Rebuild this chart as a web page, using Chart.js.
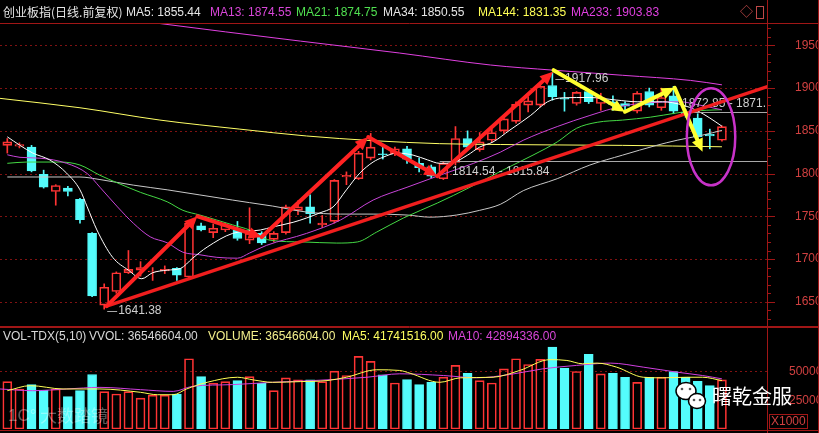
<!DOCTYPE html>
<html lang="zh-CN">
<head>
<meta charset="UTF-8" />
<title>创业板指 日线 前复权</title>
<script src="https://cdn.jsdelivr.net/npm/chart.js@4.4.1/dist/chart.umd.min.js"></script>
<style>
  html, body { margin: 0; padding: 0; background: #000; }
  #board { position: relative; width: 819px; height: 433px; overflow: hidden; background: #000;
           font-family: "Liberation Sans", Arial, sans-serif; font-size: 12px; }
  #board canvas { position: absolute; left: 0; }
  .txt { position: absolute; line-height: 16px; white-space: nowrap; }
  .cjk { font-family: "Noto Sans CJK SC", sans-serif; }
</style>
</head>
<body>
<div id="board">
  <canvas id="priceChart" width="819" height="327" style="top:0"></canvas>
  <canvas id="volChart" width="819" height="106" style="top:327px"></canvas>

  <!-- header of the price panel -->
  <span class="txt cjk" style="left:3px;top:4px;color:#e6e6e6">创业板指(日线.前复权)</span>
  <span class="txt" style="left:126px;top:4px;color:#e6e6e6">MA5: 1855.44</span>
  <span class="txt" style="left:210px;top:4px;color:#d846d8">MA13: 1874.55</span>
  <span class="txt" style="left:296px;top:4px;color:#50e050">MA21: 1874.75</span>
  <span class="txt" style="left:383px;top:4px;color:#e6e6e6">MA34: 1850.55</span>
  <span class="txt" style="left:478px;top:4px;color:#ffff55">MA144: 1831.35</span>
  <span class="txt" style="left:571px;top:4px;color:#e040e0">MA233: 1903.83</span>
  <span class="txt" style="left:740px;top:4px;color:#c04848;font-size:13px">&#9671;</span>
  <div style="position:absolute;left:756px;top:6px;width:6px;height:11px;border:1px solid #c04848"></div>

  <!-- header of the volume panel -->
  <span class="txt" style="left:3px;top:328px;color:#d8d8d8">VOL-TDX(5,10)</span>
  <span class="txt" style="left:89px;top:328px;color:#d8d8d8">VVOL: 36546604.00</span>
  <span class="txt" style="left:208px;top:328px;color:#f4f08c">VOLUME: 36546604.00</span>
  <span class="txt" style="left:342px;top:328px;color:#ffff60">MA5: 41741516.00</span>
  <span class="txt" style="left:448px;top:328px;color:#d846d8">MA10: 42894336.00</span>

  <!-- watermarks -->
  <span class="txt" style="left:8px;top:406px;font-size:17px;line-height:20px;color:rgba(255,255,255,0.35)">1C°</span>
  <span class="txt cjk" style="left:40px;top:404px;font-size:17px;line-height:22px;color:rgba(255,255,255,0.35)">大数踏镜</span>
  <span class="txt cjk" style="left:712px;top:383px;font-size:20px;line-height:26px;color:#ffffff">曙乾金服</span>
</div>

<script>
  // daily candles
  const opens  = [1833, 1832, 1831, 1799, 1779, 1783, 1770, 1730, 1646, 1662,
                  1684, 1687, 1685, 1686, 1689, 1679, 1739, 1731, 1734, 1734,
                  1722, 1730, 1723, 1731, 1757, 1761, 1740, 1744, 1796, 1794,
                  1818, 1823, 1823, 1829, 1812, 1808, 1794, 1813, 1841, 1828,
                  1839, 1850, 1861, 1880, 1880, 1903, 1888, 1882, 1896, 1882,
                  1884, 1882, 1873, 1896, 1877, 1891, 1872, 1865, 1846, 1839];
  const closes = [1837, 1834, 1803, 1784, 1786, 1779, 1746, 1657, 1667, 1684,
                  1688, 1690, 1686, 1688, 1681, 1742, 1734, 1736, 1740, 1724,
                  1730, 1719, 1730, 1761, 1761, 1753, 1742, 1792, 1798, 1824,
                  1831, 1822, 1829, 1817, 1807, 1797, 1812, 1841, 1831, 1837,
                  1848, 1864, 1881, 1885, 1902, 1890, 1887, 1895, 1884, 1889,
                  1881, 1879, 1894, 1880, 1889, 1873, 1869, 1843, 1844, 1855];
  const highs  = [1841, 1836, 1833, 1804, 1787, 1785, 1771, 1731, 1671, 1685,
                  1710, 1697, 1690, 1692, 1690, 1744, 1742, 1741, 1742, 1744,
                  1760, 1732, 1732, 1763, 1768, 1775, 1751, 1793, 1802, 1826,
                  1847, 1834, 1831, 1832, 1818, 1810, 1814, 1855, 1850, 1848,
                  1852, 1868, 1884, 1890, 1904, 1918, 1895, 1896, 1898, 1894,
                  1891, 1884, 1896, 1900, 1900, 1902, 1875, 1870, 1852, 1856];
  const lows   = [1824, 1830, 1802, 1783, 1763, 1774, 1742, 1656, 1641.38, 1660,
                  1683, 1680, 1675, 1683, 1675, 1677, 1733, 1725, 1732, 1722,
                  1718, 1717, 1720, 1729, 1752, 1742, 1737, 1742, 1787, 1793,
                  1816, 1817, 1821, 1812, 1802, 1795, 1793, 1810, 1828, 1826,
                  1837, 1847, 1859, 1872, 1878, 1886, 1873, 1880, 1882, 1874,
                  1874, 1874, 1871, 1878, 1874, 1870, 1866, 1842, 1829, 1838];
  // volume, in units of 1000
  const volumes = [41200, 34800, 38600, 33900, 34800, 28100, 33300, 47400, 32500, 30400,
                   32500, 26900, 29500, 29500, 30400, 61100, 45600, 39800, 41200, 42100,
                   45600, 39800, 33300, 44400, 42700, 42700, 41200, 50300, 46500, 63200,
                   58800, 47100, 40000, 43000, 38600, 40600, 45000, 55300, 48500, 42100,
                   40000, 52300, 61100, 56100, 60500, 71300, 52900, 50000, 64900, 48000,
                   48500, 45000, 40600, 45000, 45000, 50000, 45000, 41500, 37700, 42700];

  // moving average curves: [candle position, value]
  const ma5 = [[0, 1843], [1.05, 1833], [2.1, 1824], [3.5, 1816], [4.9, 1800.5], [6.0, 1781], [6.6, 1761],
    [7.4, 1734], [8.7, 1702], [10.0, 1687], [11.1, 1677], [12.0, 1684], [13.2, 1687], [14.3, 1689],
    [15.3, 1701], [16.5, 1714], [18.6, 1730], [20.9, 1734], [21.9, 1737.5], [23.6, 1743], [24.7, 1748],
    [25.8, 1754], [26.9, 1761], [28.0, 1781], [29.1, 1800.5], [30.2, 1813.5], [31.0, 1819], [32.2, 1824],
    [33.5, 1821.6], [34.7, 1816], [35.7, 1812], [36.8, 1813], [38.0, 1821.6], [39.0, 1831], [40.1, 1837],
    [41.5, 1851], [43.2, 1868], [44.6, 1884], [45.9, 1888.7], [48.1, 1889], [50.3, 1886], [52.0, 1884],
    [54.1, 1884], [55.8, 1880], [56.9, 1874], [58.0, 1865], [59.0, 1855.4]];
  const ma13 = [[0, 1822], [1.05, 1819], [2.7, 1818], [4.9, 1812], [6.6, 1800], [7.65, 1784], [9.1, 1761],
    [10.4, 1742], [11.8, 1726], [13.2, 1719], [14.5, 1708], [15.9, 1705], [17.3, 1702], [19.0, 1701],
    [20.0, 1707], [21.4, 1716], [24.7, 1730], [27.5, 1745.6], [30.2, 1769], [33.0, 1784], [35.7, 1798],
    [38.5, 1812], [40.7, 1825], [42.6, 1839], [45.4, 1855], [48.1, 1868], [50.8, 1879], [53.1, 1883],
    [55.5, 1884], [57.2, 1880], [59.0, 1874.55]];
  const ma21 = [[0, 1812], [1.6, 1813.5], [4.35, 1813.5], [6.0, 1810], [7.65, 1798], [9.1, 1789], [11.0, 1778],
    [13.2, 1767], [14.5, 1757], [15.9, 1751.5], [17.3, 1745.6], [18.6, 1740], [20.0, 1734], [21.7, 1722],
    [24.4, 1720], [27.2, 1718.7], [28.9, 1720], [30.5, 1731.6], [32.7, 1748], [35.5, 1765.5], [38.2, 1784],
    [40.9, 1804], [43.4, 1821.6], [45.4, 1837], [47.0, 1853], [48.7, 1860], [50.8, 1862.6], [53.1, 1866],
    [55.3, 1871], [56.4, 1873], [59.0, 1874.75]];
  const ma34 = [[0, 1796], [6.0, 1796], [7.65, 1793], [10.4, 1786.5], [13.2, 1781], [15.9, 1775], [18.6, 1769],
    [20.0, 1766], [21.9, 1762], [24.7, 1755], [27.5, 1752.6], [30.2, 1752.6], [33.0, 1751.5], [34.9, 1749],
    [37.1, 1751.5], [39.0, 1757], [40.7, 1764], [42.6, 1780], [45.4, 1794], [48.1, 1810], [50.8, 1821.6],
    [53.6, 1833], [55.3, 1839], [57.4, 1845], [59.0, 1850.55]];
  const ma144 = [[-0.6, 1888], [6.0, 1877], [12.6, 1862.6], [19.2, 1852], [24.7, 1844], [30.2, 1838.5],
    [35.7, 1835], [40.7, 1834], [45.4, 1833.5], [50.8, 1833], [59.0, 1831.35]];
  const ma233 = [[7.65, 1985], [11.8, 1977], [24.2, 1955], [32.4, 1941], [39.9, 1927], [45.05, 1921],
    [50.8, 1915], [56.4, 1909], [59.0, 1903.83]];
  const volMa5 = [[0, 33300], [1.9, 37700], [4.6, 34800], [7.65, 34800], [11.0, 31900], [12.4, 29800],
    [13.7, 29800], [14.8, 34800], [16.5, 40600], [19.0, 45000], [20.3, 42700], [21.9, 40600], [24.2, 41200],
    [26.4, 42100], [28.0, 45000], [30.5, 51500], [32.4, 50900], [33.25, 48500], [35.7, 40600], [37.4, 44500],
    [40.1, 45000], [42.3, 50900], [44.8, 60300], [46.2, 59600], [47.5, 56700], [48.7, 57300], [50.3, 53800],
    [52.5, 45000], [54.1, 44500], [56.1, 45000], [57.4, 45000], [59.0, 42100]];
  const volMa10 = [[-0.6, 34800], [2.1, 33300], [4.9, 34800], [7.65, 36200], [11.0, 34200], [13.7, 32700],
    [15.3, 37100], [18.6, 38600], [21.9, 40600], [25.2, 42100], [29.7, 45000], [32.4, 48000], [36.0, 46500],
    [38.8, 44500], [41.5, 47400], [44.2, 52300], [47.0, 55300], [49.8, 57300], [52.5, 53800], [55.3, 49400],
    [57.4, 46500], [59.0, 43600]];

  const priceTicks = [1650, 1700, 1750, 1800, 1850, 1900, 1950];
  const volTicks = [25000, 50000];

  // drawn marks on the chart, in [candle position, price]
  const redPath = [[8.2, 1645], [15.7, 1750], [21.0, 1725.7], [29.8, 1842.7], [35.5, 1797], [45.06, 1919]];
  const trendLine = [[8.2, 1645], [62.7, 1901.5]];
  const yellowPath = [[45.1, 1921], [51.0, 1872.3], [55.1, 1900.4], [57.4, 1825.5]];
  const levelLines = [[35.7, 1814.2], [56.4, 1871.9]];
  const notes = [[9.15, 1639.2, '1641.38', 8], [46.05, 1910.5, '1917.96', 45],
                 [36.72, 1801.8, '1814.54 - 1815.84', null], [55.7, 1882.1, '1872.85 - 1871.', null]];
  const ring = { x: 58.1, y: 1843, rx: 2.0, ry: 56.7 };

  const X_MIN = -0.603, X_MAX = 62.72;
  const RED = '#ff3434', CYAN = '#54fcfc', FRAME = '#a01616', AXIS_TXT = '#d04040', GRID = '#801212';

  const idx = opens.map((_, i) => i);
  const up = i => closes[i] >= opens[i];
  const tone = idx.map(i => (up(i) ? RED : CYAN));
  const pts = arr => arr.map(([x, y]) => ({ x, y }));

  function maLine(data, color) {
    return { type: 'line', data: pts(data), borderColor: color, borderWidth: 1, pointRadius: 0,
             cubicInterpolationMode: 'monotone', fill: false, order: 0 };
  }

  function seg(ctx, x0, y0, x1, y1) {
    ctx.beginPath(); ctx.moveTo(x0, y0); ctx.lineTo(x1, y1); ctx.stroke();
  }

  function arrow(ctx, x0, y0, x1, y1, head) {
    const ang = Math.atan2(y1 - y0, x1 - x0);
    const c = Math.cos(ang), s = Math.sin(ang);
    seg(ctx, x0, y0, x1 - c * head * 0.6, y1 - s * head * 0.6);
    ctx.beginPath();
    ctx.moveTo(x1, y1);
    ctx.lineTo(x1 - c * head + s * head * 0.45, y1 - s * head - c * head * 0.45);
    ctx.lineTo(x1 - c * head - s * head * 0.45, y1 - s * head + c * head * 0.45);
    ctx.closePath(); ctx.fill();
  }

  // right axis: fixed width and no extra padding above / below the plot
  function fixAxis(s) {
    s.width = 52;
    s.paddingTop = 0;
    s.paddingBottom = 0;
  }

  const priceDecor = {
    id: 'priceDecor',
    beforeDatasetsDraw(chart) {
      const { ctx, chartArea: a, scales: { y } } = chart;
      ctx.save();
      ctx.strokeStyle = GRID; ctx.lineWidth = 1; ctx.setLineDash([2, 3]);
      priceTicks.forEach(v => {
        const yy = Math.round(y.getPixelForValue(v)) + 0.5;
        seg(ctx, a.left, yy, a.right, yy);
      });
      ctx.restore();
    },
    afterDatasetsDraw(chart) {
      const { ctx, chartArea: a, scales: { x, y } } = chart;
      const X = v => x.getPixelForValue(v), Y = v => y.getPixelForValue(v);
      ctx.save();
      ctx.beginPath(); ctx.rect(a.left, a.top, a.right - a.left, a.bottom - a.top); ctx.clip();

      // marked levels and their labels
      ctx.strokeStyle = '#a8a8a8'; ctx.lineWidth = 1;
      levelLines.forEach(([from, v]) => {
        const yy = Math.round(Y(v)) + 0.5;
        seg(ctx, X(from), yy, a.right, yy);
      });
      ctx.font = '12px "Liberation Sans", Arial, sans-serif';
      ctx.fillStyle = '#cfcfcf'; ctx.textBaseline = 'middle'; ctx.textAlign = 'left';
      notes.forEach(([nx, ny, text, from]) => {
        const tx = X(nx), ty = Y(ny);
        if (from !== null) seg(ctx, X(from) + 3, Math.round(ty) + 0.5, tx - 1, Math.round(ty) + 0.5);
        ctx.fillText(text, tx, ty);
      });

      // long red trend line
      ctx.strokeStyle = '#f01e1e'; ctx.fillStyle = '#f01e1e'; ctx.lineWidth = 3.5; ctx.lineCap = 'round';
      seg(ctx, X(trendLine[0][0]), Y(trendLine[0][1]), X(trendLine[1][0]), Y(trendLine[1][1]));

      // red zigzag with arrow heads
      ctx.strokeStyle = '#ff2222'; ctx.fillStyle = '#ff2222'; ctx.lineWidth = 4;
      for (let k = 1; k < redPath.length; k++) {
        arrow(ctx, X(redPath[k - 1][0]), Y(redPath[k - 1][1]), X(redPath[k][0]), Y(redPath[k][1]), 13);
      }

      // yellow zigzag
      ctx.strokeStyle = '#ffff30'; ctx.fillStyle = '#ffff30'; ctx.lineWidth = 4;
      for (let k = 1; k < yellowPath.length; k++) {
        arrow(ctx, X(yellowPath[k - 1][0]), Y(yellowPath[k - 1][1]), X(yellowPath[k][0]), Y(yellowPath[k][1]), 13);
      }

      // circled area
      ctx.strokeStyle = '#c832c8'; ctx.lineWidth = 2.5;
      ctx.beginPath();
      ctx.ellipse(X(ring.x), Y(ring.y), X(ring.x + ring.rx) - X(ring.x), Y(ring.y - ring.ry) - Y(ring.y), 0, 0, Math.PI * 2);
      ctx.stroke();
      ctx.restore();
    },
    afterDraw(chart) {
      const { ctx, chartArea: a, scales: { y } } = chart;
      ctx.save();
      ctx.strokeStyle = FRAME; ctx.lineWidth = 1;
      seg(ctx, 0, a.top - 0.5, chart.width, a.top - 0.5);
      seg(ctx, 0, chart.height - 0.5, chart.width, chart.height - 0.5);
      seg(ctx, a.right + 0.5, 0, a.right + 0.5, chart.height);
      seg(ctx, chart.width - 0.5, 0, chart.width - 0.5, chart.height);
      for (let v = 1630; v <= 1970; v += 10) {
        const yy = Math.round(y.getPixelForValue(v)) + 0.5;
        seg(ctx, a.right + 1, yy, a.right + (v % 50 === 0 ? 8 : 4), yy);
      }
      ctx.restore();
    }
  };

  const volDecor = {
    id: 'volDecor',
    beforeDatasetsDraw(chart) {
      const { ctx, chartArea: a, scales: { y } } = chart;
      ctx.save();
      ctx.strokeStyle = GRID; ctx.lineWidth = 1; ctx.setLineDash([2, 3]);
      const yy = Math.round(y.getPixelForValue(volTicks[1])) + 0.5;
      seg(ctx, a.left, yy, a.right, yy);
      ctx.restore();
    },
    afterDraw(chart) {
      const { ctx, chartArea: a } = chart;
      ctx.save();
      ctx.strokeStyle = FRAME; ctx.lineWidth = 1;
      seg(ctx, 0, 0.5, chart.width, 0.5);
      seg(ctx, 0, a.bottom + 1.5, chart.width, a.bottom + 1.5);
      seg(ctx, a.right + 0.5, 0, a.right + 0.5, chart.height);
      seg(ctx, chart.width - 0.5, 0, chart.width - 0.5, chart.height);
      ctx.strokeRect(769.5, 87.5, 38, 14);
      ctx.fillStyle = AXIS_TXT; ctx.font = '12px "Liberation Sans", Arial, sans-serif';
      ctx.textBaseline = 'middle'; ctx.textAlign = 'left';
      ctx.fillText('X1000', 771, 95);
      // chat-bubble logo next to the watermark
      ctx.fillStyle = '#ffffff'; ctx.strokeStyle = '#000000'; ctx.lineWidth = 1.5;
      ctx.beginPath(); ctx.ellipse(686, 64, 10, 8.5, 0, 0, Math.PI * 2); ctx.fill(); ctx.stroke();
      ctx.beginPath(); ctx.ellipse(697, 74, 8.5, 7.5, 0, 0, Math.PI * 2); ctx.fill(); ctx.stroke();
      ctx.fillStyle = '#555555';
      [[682, 62], [690, 62], [694, 73], [700, 73]].forEach(([ex, ey]) => {
        ctx.beginPath(); ctx.arc(ex, ey, 1.3, 0, Math.PI * 2); ctx.fill();
      });
      ctx.restore();
    }
  };

  const axisFont = { family: 'Liberation Sans', size: 12 };

  new Chart(document.getElementById('priceChart'), {
    type: 'bar',
    data: {
      datasets: [
        maLine(ma5, '#ffffff'),
        maLine(ma13, '#c844d8'),
        maLine(ma21, '#44d844'),
        maLine(ma34, '#c8c8c8'),
        maLine(ma144, '#ffff66'),
        maLine(ma233, '#e040e0'),
        {
          type: 'bar', data: idx.map(i => ({ x: i, y: [opens[i], closes[i]] })),
          backgroundColor: idx.map(i => (up(i) ? 'rgba(0,0,0,0)' : CYAN)), borderColor: tone,
          borderWidth: 1, borderSkipped: false, barThickness: 9, grouped: false, order: 1
        },
        {
          type: 'bar', data: idx.map(i => ({ x: i, y: [Math.max(opens[i], closes[i]), highs[i]] })),
          backgroundColor: tone, barThickness: 1, grouped: false, order: 2
        },
        {
          type: 'bar', data: idx.map(i => ({ x: i, y: [lows[i], Math.min(opens[i], closes[i])] })),
          backgroundColor: tone, barThickness: 1, grouped: false, order: 2
        }
      ]
    },
    options: {
      responsive: false, animation: false, devicePixelRatio: 1,
      layout: { padding: { top: 24, left: 0, right: 0, bottom: 0 }, autoPadding: false },
      plugins: { legend: { display: false }, tooltip: { enabled: false } },
      scales: {
        x: { type: 'linear', min: X_MIN, max: X_MAX, offset: false, display: false },
        y: {
          position: 'right', min: 1620.5, max: 1975, beginAtZero: false,
          grid: { display: false }, border: { display: false },
          afterBuildTicks: s => { s.ticks = priceTicks.map(v => ({ value: v })); },
          afterFit: fixAxis,
          ticks: { color: AXIS_TXT, font: axisFont, padding: 20, callback: v => String(v) }
        }
      }
    },
    plugins: [priceDecor]
  });

  new Chart(document.getElementById('volChart'), {
    type: 'bar',
    data: {
      datasets: [
        maLine(volMa5, '#ffff55'),
        maLine(volMa10, '#d040e0'),
        {
          type: 'bar', data: idx.map(i => ({ x: i, y: volumes[i] })),
          backgroundColor: idx.map(i => (up(i) ? 'rgba(0,0,0,0)' : CYAN)), borderColor: tone,
          borderWidth: 1, borderSkipped: false, barThickness: 9, grouped: false, order: 1
        }
      ]
    },
    options: {
      responsive: false, animation: false, devicePixelRatio: 1,
      layout: { padding: { top: 18, left: 0, right: 0, bottom: 4 }, autoPadding: false },
      plugins: { legend: { display: false }, tooltip: { enabled: false } },
      scales: {
        x: { type: 'linear', min: X_MIN, max: X_MAX, offset: false, display: false },
        y: {
          position: 'right', min: 0, max: 73040,
          grid: { display: false }, border: { display: false },
          afterBuildTicks: s => { s.ticks = volTicks.map(v => ({ value: v })); },
          afterFit: fixAxis,
          ticks: { color: AXIS_TXT, font: axisFont, padding: 14, callback: v => String(v) }
        }
      }
    },
    plugins: [volDecor]
  });
</script>
</body>
</html>
